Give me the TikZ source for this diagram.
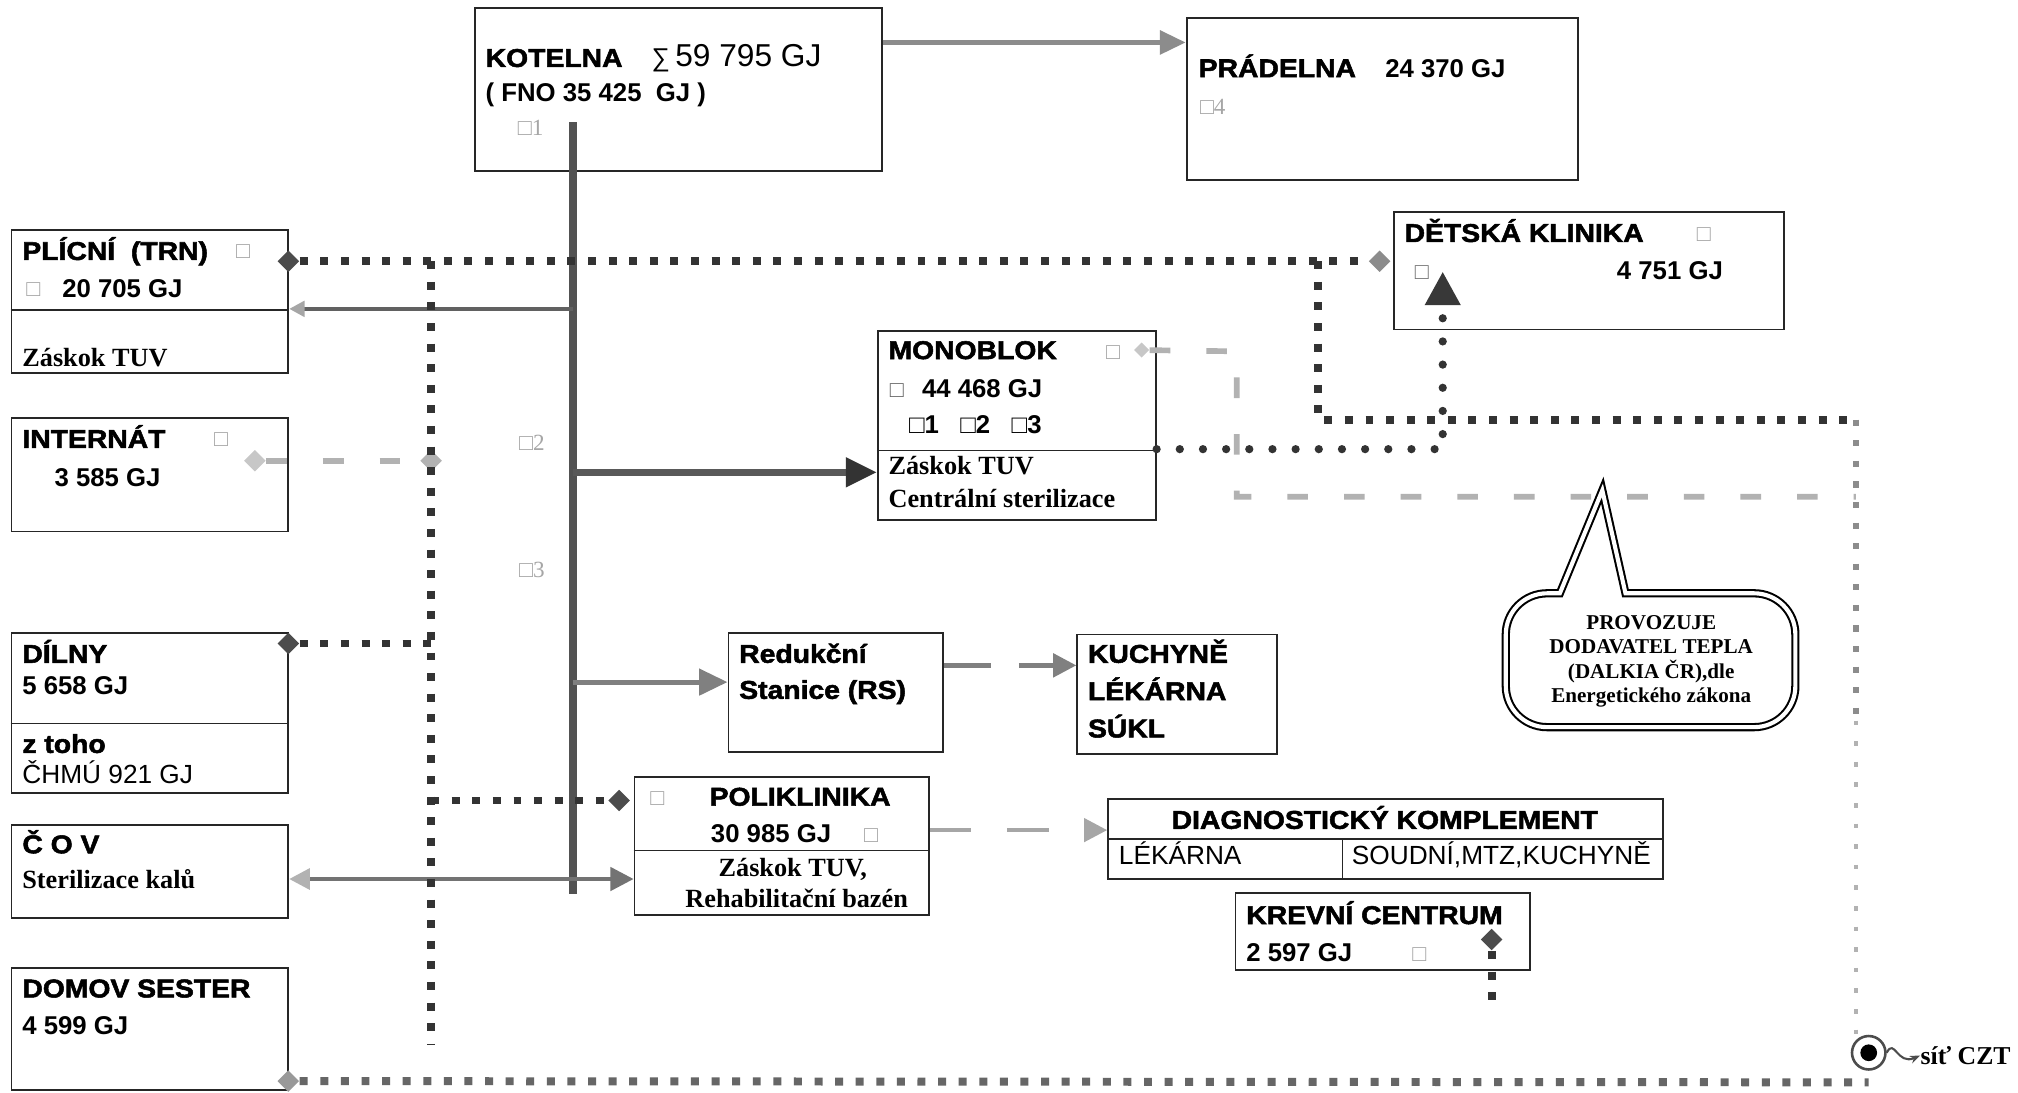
\documentclass[tikz,border=0pt]{standalone}
\usepackage{fontspec}
\setmainfont{Liberation Sans}
\newfontfamily\hdfont{Liberation Sans}[FakeStretch=1.1,BoldFeatures={FakeBold=2}]
\newfontfamily\serf{Liberation Serif}
\usetikzlibrary{arrows.meta,shapes.geometric,fit}
\begin{document}
\begin{tikzpicture}[x=0.5pt,y=-0.5pt,
  box/.style={draw=black!85, line width=0.7pt, inner sep=0pt},
  divline/.style={draw=black!85, line width=0.6pt},
  hd/.style={anchor=base west, inner sep=0pt, font=\hdfont\bfseries\fontsize{10}{12}\selectfont},
  num/.style={anchor=base west, inner sep=0pt, font=\bfseries\fontsize{10}{12}\selectfont},
  reg/.style={anchor=base west, inner sep=0pt, font=\fontsize{10.2}{12}\selectfont},
  ser/.style={anchor=base west, inner sep=0pt, font=\serf\bfseries\fontsize{10.2}{12}\selectfont},
  faint/.style={anchor=base west, inner sep=0pt, text=black!35, font=\serf\fontsize{9}{11}\selectfont},
  sqdot/.style={line width=3.1pt, dash pattern=on 3.1pt off 4.9pt, draw=black!80},
  rdot/.style={line width=3.2pt, line cap=round, dash pattern=on 0pt off 9pt, draw=black!80},
  lgdash/.style={line width=2.2pt, dash pattern=on 8pt off 14pt, draw=black!30},
  dmd/.style={diamond, fill=black!70, inner sep=0pt, minimum size=8.5pt},
]
\useasboundingbox (0,0) rectangle (1568,849);
\fill[white] (0,0) rectangle (1568,849);

% ---------- boxes ----------
\node[box, fit={(369,6) (685,133)}] (kot) {};
\node[box, fit={(922,14) (1226,140)}] (prad) {};
\node[box, fit={(9,179) (224,290)}] (plic) {};
\node[box, fit={(9,325) (224,413)}] (intr) {};
\node[box, fit={(9,492) (224,616)}] (diln) {};
\node[box, fit={(9,641) (224,713)}] (cov) {};
\node[box, fit={(9,752) (224,847)}] (domov) {};
\node[box, fit={(682,257) (898,404)}] (mono) {};
\node[box, fit={(1083,165) (1386,256)}] (det) {};
\node[box, fit={(566,492) (733,584)}] (red) {};
\node[box, fit={(837,493) (992,586)}] (kuch) {};
\node[box, fit={(493,604) (722,711)}] (poli) {};
\node[box, fit={(861,621) (1292,683)}] (diag) {};
\node[box, fit={(960,694) (1189,754)}] (krev) {};

\draw[divline] (plic.west |- 0,241) -- (plic.east |- 0,241);
\draw[divline] (diln.west |- 0,562) -- (diln.east |- 0,562);
\draw[divline] (mono.west |- 0,350) -- (mono.east |- 0,350);
\draw[divline] (poli.west |- 0,661) -- (poli.east |- 0,661);
\draw[divline] (diag.west |- 0,652) -- (diag.east |- 0,652);
\draw[divline] (1043,652) -- (diag.south -| 1043,0);

% ---------- texts ----------
\node[hd] (t1) at (377,52) {KOTELNA};
\node[anchor=base west, inner sep=0pt, font=\fontsize{12.3}{14}\selectfont] (t2) at (506,52) {{\fontsize{10}{12}\selectfont∑}\,59 795 GJ};
\node[num] (t3) at (377,79) {( FNO 35 425\ \ GJ )};
\node[faint] (t4) at (402,105) {□1};

\node[hd] (t5) at (931,60) {PRÁDELNA};
\node[num] (t6) at (1076,60) {24 370 GJ};
\node[faint] (t7) at (932,89) {□4};

\node[hd] (t8) at (17,202) {PLÍCNÍ\ \ (TRN)};
\node[faint] (t9) at (183,201) {□};
\node[faint] (t10) at (20,230) {□};
\node[num] (t11) at (48,231) {20 705 GJ};
\node[ser] (t12) at (17,285) {Záskok TUV};

\node[hd] (t13) at (17,348) {INTERNÁT};
\node[faint] (t14) at (166,347) {□};
\node[num] (t15) at (42,378) {3 585 GJ};

\node[hd] (t16) at (17,515) {DÍLNY};
\node[num] (t17) at (17,540) {5 658 GJ};
\node[hd] (t18) at (17,585) {z toho};
\node[reg] (t19) at (17,609) {ČHMÚ 921 GJ};

\node[hd] (t20) at (17,663) {Č O V};
\node[ser] (t21) at (17,690) {Sterilizace kalů};

\node[hd] (t22) at (17,775) {DOMOV SESTER};
\node[num] (t23) at (17,804) {4 599 GJ};

\node[hd] (t24) at (690,279) {MONOBLOK};
\node[faint] (t25) at (859,279) {□};
\node[faint, text=black!60] (t26) at (691,309) {□};
\node[num] (t27) at (716,309) {44 468 GJ};
\node[num] (t28) at (706,337) {□1\ \ \ □2\ \ \ □3};
\node[ser] (t29) at (690,369) {Záskok TUV};
\node[ser] (t30) at (690,394) {Centrální sterilizace};

\node[hd] (t31) at (1091,188) {DĚTSKÁ KLINIKA};
\node[faint] (t32) at (1318,188) {□};
\node[faint, text=black!55] (t33) at (1099,217) {□};
\node[num] (t34) at (1256,217) {4 751 GJ};

\node[hd] (t35) at (574,515) {Redukční};
\node[hd] (t36) at (574,543) {Stanice (RS)};

\node[hd] (t37) at (845,515) {KUCHYNĚ};
\node[hd] (t38) at (845,544) {LÉKÁRNA};
\node[hd] (t39) at (845,573) {SÚKL};

\node[faint] (t40) at (505,626) {□};
\node[hd] (t41) at (551,626) {POLIKLINIKA};
\node[num] (t42) at (552,655) {30 985 GJ};
\node[faint] (t43) at (671,655) {□};
\node[ser, anchor=base] (t44) at (616,681) {Záskok TUV,};
\node[ser, anchor=base] (t45) at (619,705) {Rehabilitační bazén};

\node[hd, anchor=base] (t46) at (1076,644) {DIAGNOSTICKÝ KOMPLEMENT};
\node[reg] (t47) at (869,672) {LÉKÁRNA};
\node[reg] (t48) at (1050,672) {SOUDNÍ,MTZ,KUCHYNĚ};

\node[hd] (t49) at (968,718) {KREVNÍ CENTRUM};
\node[num] (t50) at (968,747) {2 597 GJ};
\node[faint] (t51) at (1097,747) {□};

\node[faint] (t52) at (403,350) {□2};
\node[faint] (t53) at (403,449) {□3};

% ---------- main pipes ----------
\coordinate (trT) at (445,95);
\coordinate (trB) at (445,695);
\draw[line width=3pt, draw=black!68] (trT) -- (trB);

\draw[line width=2pt, draw=black!45, -{Triangle[length=10pt,width=9pt]}]
  (kot.east |- 0,33) -- (prad.west |- 0,33);
\draw[line width=1.8pt, draw=black!62, -{Triangle[length=6pt,width=6pt,fill=black!35,color=black!35]}]
  (trT |- 0,240) -- (plic.east |- 0,240);
\draw[line width=2.6pt, draw=black!65, -{Triangle[length=12pt,width=11pt,fill=black!80,color=black!80]}]
  (trT |- 0,367) -- (mono.west |- 0,367);
\draw[line width=2pt, draw=black!50, -{Triangle[length=11pt,width=10pt]}]
  (trT |- 0,530) -- (red.west |- 0,530);
\draw[line width=1.6pt, draw=black!55,
  {Triangle[length=8pt,width=8pt,fill=black!30,color=black!30]}-{Triangle[length=9pt,width=9pt]}]
  (cov.east |- 0,683) -- (poli.west |- 0,683);
\draw[line width=1.8pt, draw=black!50, dash pattern=on 18pt off 11pt, -{Triangle[length=9pt,width=9pt]}]
  (red.east |- 0,517) -- (kuch.west |- 0,517);
\draw[line width=1.6pt, draw=black!35, dash pattern=on 16pt off 14pt, -{Triangle[length=9pt,width=9pt]}]
  (poli.east |- 0,645) -- (diag.west |- 0,645);

% ---------- district heating network ----------
\node[dmd] (dPl) at (224,203) {};
\node[dmd, fill=black!45] (dDet) at (1072,203) {};
\node[dmd] (dDi) at (224,500) {};
\node[dmd] (dPo) at (481,622) {};
\node[dmd] (dKr) at (1159,730) {};
\node[dmd, fill=black!40] (dDo) at (224,840) {};
\node[dmd, fill=black!22] (dIn) at (198,358) {};
\node[dmd, fill=black!30] (dIn2) at (335,358) {};
\node[dmd, fill=black!22, minimum size=6pt] (dMo) at (887,272) {};

\coordinate (vT) at (335,203);
\coordinate (vB) at (335,812);
\coordinate (jD) at (1024,203);
\coordinate (rT) at (1442,326);
\coordinate (rM) at (1442,560);
\coordinate (bR) at (1452,841);
\coordinate (krE) at (1159,785);
\coordinate (detIn) at (1121,211);
\coordinate (lgC) at (961,273);

\node[circle, draw=black!70, line width=1pt, minimum size=13pt, inner sep=0pt] (czt) at (1452,818) {};
\node[circle, fill=black, minimum size=6.5pt, inner sep=0pt] (cztin) at (czt.center) {};
\node[ser, font=\serf\bfseries\fontsize{10}{12}\selectfont] (cztt) at (1492,827) {síť CZT};
\draw[black!70, line width=0.8pt, -{Stealth[length=4pt,width=3pt]}]
  (czt.east) .. controls (1472,806) and (1474,828) .. (cztt.west);

\draw[sqdot] (dPl) -- (dDet);
\draw[sqdot] (vT) -- (vB);
\draw[sqdot] (dDi) -- (dDi -| vT);
\draw[sqdot] (dPo -| vT) -- (dPo);
\draw[sqdot, draw=black!60] (dDo) -- (bR);
\draw[sqdot] (jD) -- (jD |- rT) -- (rT);
\draw[sqdot, draw=black!45, line width=2.4pt, dash pattern=on 2.4pt off 5.6pt] (rT) -- (rM);
\draw[sqdot, draw=black!30, line width=1.8pt, dash pattern=on 1.8pt off 6.2pt] (rM) -- (czt.north -| rT);
\draw[sqdot] (dKr) -- (krE);
\draw[lgdash] (dIn) -- (dIn2);

\draw[rdot, -{Triangle[length=13pt,width=13pt,fill=black!78,color=black!78]}]
  (mono.east |- 0,349) -- (detIn |- 0,349) -- (detIn);

\draw[lgdash] (dMo) -- (lgC) -- (lgC |- 0,386) -- (rT |- 0,386);

% ---------- callout ----------
\draw[line width=0.8pt, double=white, double distance=1.6pt]
  (1245,381) -- (1263,461) [rounded corners=16pt] -- (1395,461) -- (1395,565)
  -- (1170,565) -- (1170,461) [sharp corners] -- (1212,461) -- cycle;
\node[align=center, inner sep=0pt, font=\serf\bfseries\fontsize{8.2}{9.5}\selectfont] (callt) at (1283,514)
  {PROVOZUJE\\DODAVATEL TEPLA\\(DALKIA ČR),dle\\Energetického zákona};
\end{tikzpicture}
\end{document}
